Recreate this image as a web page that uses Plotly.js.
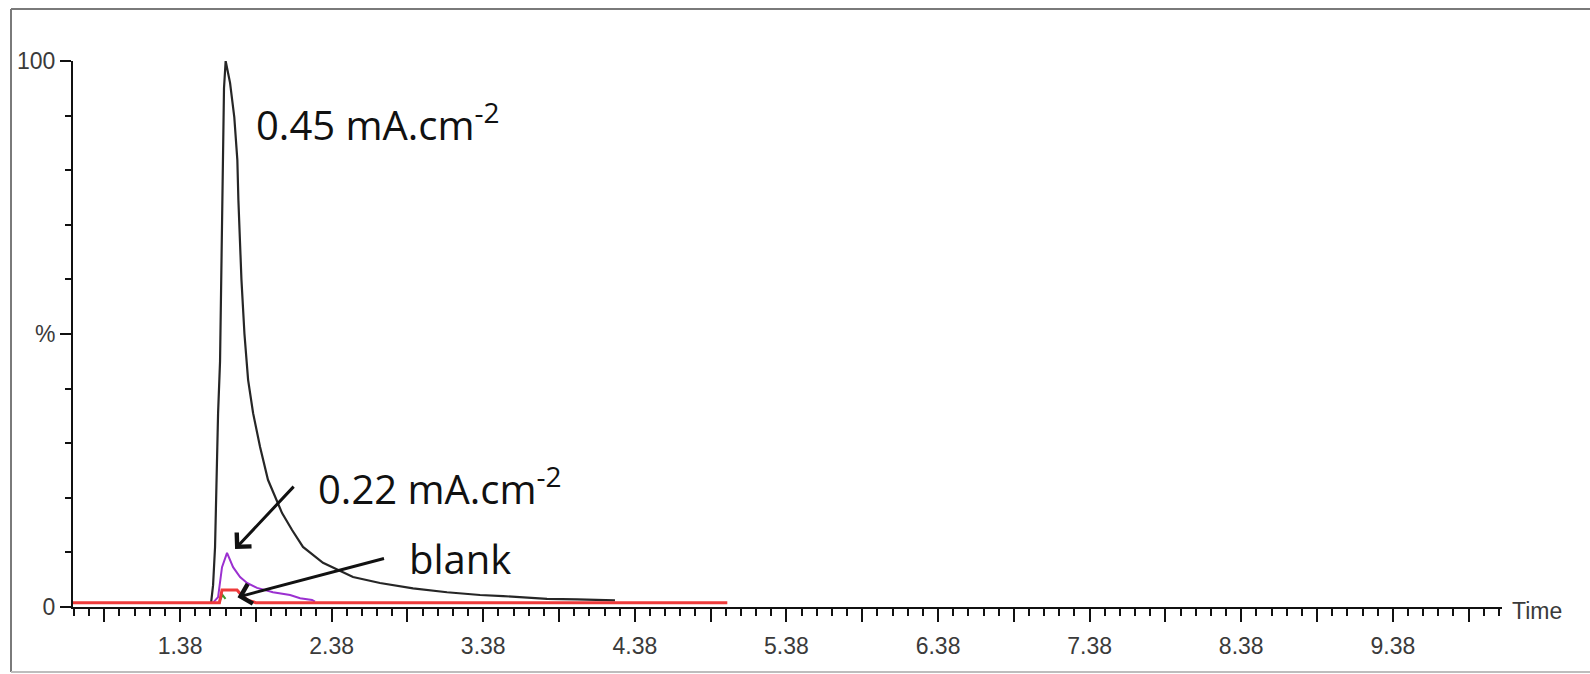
<!DOCTYPE html>
<html><head><meta charset="utf-8">
<script src="https://cdn.plot.ly/plotly-3.0.1.min.js"></script>
<style>html,body{margin:0;padding:0;background:#fff}#chart{width:1590px;height:674px}</style>
</head><body><div id="chart"></div>
<script>
// ---- data (time in min, intensity in %) ----
const timeHigh = [1.585, 1.598, 1.611, 1.631, 1.644, 1.657, 1.670, 1.681, 1.710, 1.738, 1.758, 1.765, 1.785, 1.805, 1.829, 1.862, 1.908, 1.960, 2.053, 2.119, 2.191, 2.323, 2.521, 2.699, 2.917, 3.141, 3.359, 3.511, 3.643, 3.801, 4.000, 4.150, 4.249];
const pctHigh  = [0.8, 4.0, 11.0, 35.5, 45.0, 70.0, 95.0, 100.0, 96.0, 89.7, 81.9, 74.5, 60.0, 50.0, 41.6, 35.5, 29.3, 23.3, 17.2, 14.1, 11.0, 8.1, 5.5, 4.4, 3.4, 2.7, 2.2, 2.0, 1.8, 1.5, 1.4, 1.3, 1.2];

const timeMid = [1.598, 1.631, 1.657, 1.690, 1.730, 1.776, 1.822, 1.888, 1.993, 2.106, 2.172, 2.251, 2.270];
const pctMid  = [0.8, 1.8, 7.3, 9.9, 7.3, 5.5, 4.4, 3.5, 2.7, 2.2, 1.6, 1.3, 1.0];

const timeGreen = [1.640, 1.660, 1.680];
const pctGreen  = [1.0, 2.2, 1.5];

const timeBlank = [0.674, 1.640, 1.657, 1.680, 1.756, 1.790, 1.830, 1.880, 4.990];
const pctBlank  = [0.8, 0.8, 3.1, 3.1, 3.1, 2.0, 1.2, 0.8, 0.8];

const xTickVals = [0.88,1.38,1.88,2.38,2.88,3.38,3.88,4.38,4.88,5.38,5.88,6.38,6.88,7.38,7.88,8.38,8.88,9.38,9.88];
const xTickText = ['','1.38','','2.38','','3.38','','4.38','','5.38','','6.38','','7.38','','8.38','','9.38',''];
const yTickVals = [0, 50, 100];
const yTickText = ['0', '%', '100'];

const labelHigh = '0.45 mA.cm<sup>-2</sup>';
const labelMid = '0.22 mA.cm<sup>-2</sup>';
const labelBlank = 'blank';
const xAxisLabel = 'Time';

const tickFont = {family: "'Liberation Sans Narrow','Arial Narrow','Liberation Sans',Arial,sans-serif", size: 23, color: '#3a3a3a'};
const noteFont = {family: "'Open Sans','Noto Sans',sans-serif", size: 40, color: '#111'};

const traces = [
  {x: timeHigh, y: pctHigh, mode: 'lines', line: {color: '#262626', width: 2.2}, hoverinfo: 'skip'},
  {x: timeMid, y: pctMid, mode: 'lines', line: {color: '#9b30d0', width: 2}, hoverinfo: 'skip'},
  {x: timeGreen, y: pctGreen, mode: 'lines', line: {color: '#3a9a2a', width: 2}, hoverinfo: 'skip'},
  {x: timeBlank, y: pctBlank, mode: 'lines', line: {color: '#ee3b3b', width: 3}, hoverinfo: 'skip'}
];

const L = 73, R = 1502, T = 61, B = 607;
const W = 1590, H = 674;
const px = v => (v - L) / (R - L);
const py = v => (B - v) / (B - T);

const layout = {
  width: W, height: H,
  margin: {l: L, r: W - R, t: T, b: H - B, pad: 0},
  paper_bgcolor: '#fff', plot_bgcolor: '#fff',
  showlegend: false,
  xaxis: {
    range: [0.674, 10.10], showgrid: false, zeroline: false,
    showline: true, linecolor: '#111', linewidth: 2,
    tickmode: 'array', tickvals: xTickVals, ticktext: xTickText,
    ticks: 'outside', ticklen: 13, tickwidth: 2, tickcolor: '#111',
    tickfont: tickFont, ticklabelstandoff: 4,
    minor: {tick0: 0.08, dtick: 0.1, ticks: 'outside', ticklen: 7, tickwidth: 2, tickcolor: '#111'}
  },
  yaxis: {
    range: [0, 100], showgrid: false, zeroline: false,
    showline: true, linecolor: '#111', linewidth: 2,
    tickmode: 'array', tickvals: yTickVals, ticktext: yTickText,
    ticks: 'outside', ticklen: 11, tickwidth: 2, tickcolor: '#111',
    tickfont: tickFont, ticklabelstandoff: 0,
    minor: {tick0: 0, dtick: 10, ticks: 'outside', ticklen: 6, tickwidth: 2, tickcolor: '#111'}
  },
  shapes: [
    {type: 'line', xref: 'paper', yref: 'paper', x0: px(11), x1: px(11), y0: py(672), y1: py(9),
     line: {color: '#7a7a7a', width: 2}, layer: 'below'},
    {type: 'line', xref: 'paper', yref: 'paper', x0: px(11), x1: px(1600), y0: py(9), y1: py(9),
     line: {color: '#7a7a7a', width: 2}, layer: 'below'},
    {type: 'line', xref: 'paper', yref: 'paper', x0: px(11), x1: px(1600), y0: py(672), y1: py(672),
     line: {color: '#bdbdbd', width: 2}, layer: 'below'}
  ],
  annotations: [
    {xref: 'x', yref: 'y', x: 1.868, y: 88.7, text: labelHigh, showarrow: false, xanchor: 'left', yanchor: 'middle', font: noteFont},
    {xref: 'x', yref: 'y', x: 2.277, y: 22.0, text: labelMid, showarrow: false, xanchor: 'left', yanchor: 'middle', font: noteFont},
    {xref: 'x', yref: 'y', x: 2.877, y: 8.8, text: labelBlank, showarrow: false, xanchor: 'left', yanchor: 'middle', font: noteFont},
    {xref: 'x', yref: 'y', x: 1.743, y: 10.6, text: '', showarrow: true, ax: 60, ay: -64,
     arrowhead: 4, arrowsize: 1.3, arrowwidth: 3, arrowcolor: '#111', standoff: 0},
    {xref: 'x', yref: 'y', x: 1.759, y: 1.8, text: '', showarrow: true, ax: 148, ay: -39,
     arrowhead: 4, arrowsize: 1.3, arrowwidth: 3, arrowcolor: '#111', standoff: 0},
    {xref: 'paper', yref: 'paper', x: 1, y: 0, xshift: 8, yshift: -4, text: xAxisLabel, showarrow: false,
     xanchor: 'left', yanchor: 'middle', font: tickFont}
  ]
};

Plotly.newPlot('chart', traces, layout, {displayModeBar: false, staticPlot: true});
</script>
</body></html>
